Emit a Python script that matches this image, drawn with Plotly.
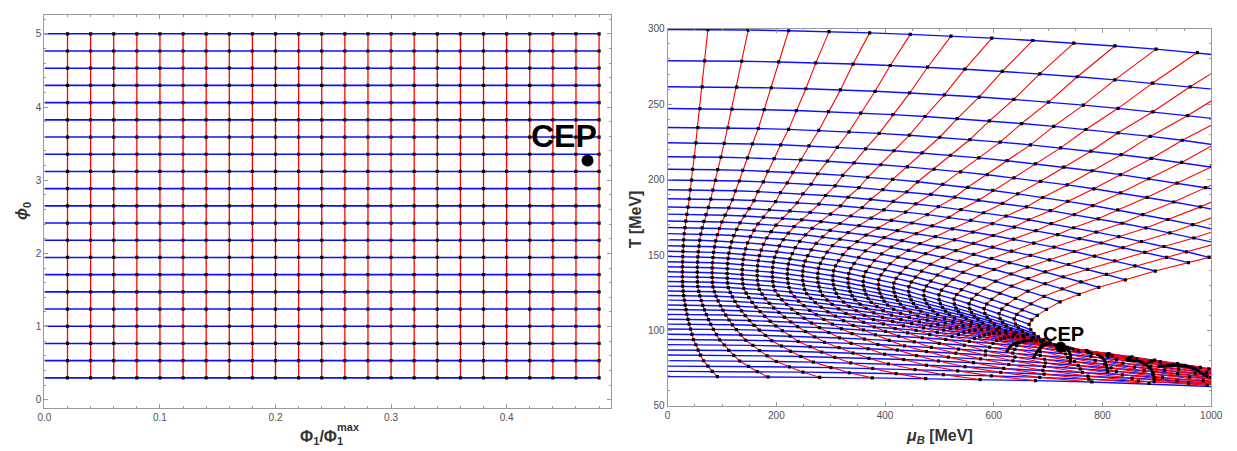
import plotly.graph_objects as go

# ---------------- left panel: horizon-data grid ----------------
phi1_ratio = [0.02, 0.04, 0.06, 0.08, 0.10, 0.12, 0.14, 0.16, 0.18, 0.20, 0.22, 0.24,
              0.26, 0.28, 0.30, 0.32, 0.34, 0.36, 0.38, 0.40, 0.42, 0.44, 0.46, 0.48]
phi0_vals = [0.3, 0.535, 0.77, 1.005, 1.24, 1.475, 1.71, 1.945, 2.18, 2.415, 2.65,
             2.885, 3.12, 3.355, 3.59, 3.825, 4.06, 4.295, 4.53, 4.765, 5.0]
cep_left = (0.47, 3.27)

# ---------------- right panel: image of the grid in (mu_B, T) ----------------
# one entry per constant-phi0 curve
T_start = [299.5, 278.8, 261.6, 247.1, 234.6, 224.4, 215.2, 206.9, 199.8, 193.3, 187.3,
           181.9, 177.1, 172.6, 168.3, 164.2, 160.1, 156.2, 152.5, 149.1, 145.6, 142.2,
           138.9, 135.7, 132.5, 129.4, 126.2, 123.2, 120.1, 116.9, 113.9, 110.7, 107.4,
           104.2, 101.0, 97.5, 94.0, 90.6, 87.1, 83.7, 80.0, 76.4, 72.9, 69.4]
# mu_B where the first Phi1 line crosses each curve
mu_first = [74, 68, 63.5, 59.2, 55.6, 52, 49, 46, 44, 41.5, 39.7, 37.5, 35.3, 33.3,
            31.8, 30.5, 29.5, 28.8, 28.2, 27.8, 27.5, 27.3, 27.2, 27.2, 27.3, 27.6,
            28.5, 29.5, 30.8, 32.2, 33.8, 35.5, 37.5, 39.6, 42, 44.8, 47.6, 52, 56,
            60.5, 66, 74, 82, 91.5]
# (mu_B, T) where the last Phi1 line crosses each curve
mu_last = [1820, 1660, 1535, 1420, 1335, 1250, 1176, 1104, 1056, 996, 958, 897, 842,
           793, 757, 722, 697, 680, 670, 665, 668, 674, 682, 692, 704, 718, 735, 755,
           780, 810, 845, 885, 930, 980, 1040, 1110, 1200, 1310, 1440, 1590, 1770,
           1980, 2250, 2672]
T_last = [246.2, 227.3, 212.4, 199.9, 188.3, 176.9, 167.3, 158.9, 154.0, 148.5, 145.0,
          139.4, 133.6, 128.6, 124.0, 119.0, 114.0, 110.0, 107.0, 104.0, 100.5, 98.0,
          95.8, 93.8, 91.8, 90.0, 88.3, 86.5, 84.6, 82.6, 80.7, 78.9, 77.2, 75.6, 72.2,
          67.4, 62.0, 56.1, 50.0, 43.8, 38.0, 32.9, 29.9, 28.0]
# crowded crossing points where the map folds back, past the critical point
fold_mu = [[623, 632, 646],
           [672, 684, 696],
           [735, 741, 740],
           [789, 803, 810],
           [844, 871, 892, 895],
           [901, 934, 970, 982, 995]]
fold_T = [[85.6, 90.0, 92.1],
          [81.3, 88.0, 91.0],
          [88.0, 84.0, 78.0],
          [84.5, 80.5, 71.6],
          [80.2, 79.2, 72.7, 65.1],
          [76.0, 77.0, 74.8, 71.6, 69.4]]
cep_right = (723, 89)

RED = "rgb(255,0,0)"
BLUE = "rgb(15,15,255)"
DOT = "black"

# crossing points of every Phi1 line with every phi0 curve
n_k = len(phi1_ratio)
ks = [p / phi1_ratio[0] for p in phi1_ratio]
K = ks[-1]
grid_mu, grid_T = [], []
for T0, m, M, TL in zip(T_start, mu_first, mu_last, T_last):
    b = (M - K * m) / (K * K - K)
    a = m - b
    mus = [a * k + b * k * k for k in ks]
    Ts = [T0 - (T0 - TL) * (mu / M) ** 2 for mu in mus]
    grid_mu.append(mus)
    grid_T.append(Ts)

fig = go.Figure()

# ---- left panel traces ----
bx, by = [], []
for y in phi0_vals:
    bx += [0.0, phi1_ratio[-1], None]
    by += [y, y, None]
rx, ry = [], []
for x in phi1_ratio:
    rx += [x, x, None]
    ry += [phi0_vals[0], phi0_vals[-1], None]
dx = [x for y in phi0_vals for x in phi1_ratio]
dy = [y for y in phi0_vals for x in phi1_ratio]
fig.add_trace(go.Scatter(x=bx, y=by, mode="lines", line=dict(color=BLUE, width=1.6),
                         xaxis="x", yaxis="y", hoverinfo="skip"))
fig.add_trace(go.Scatter(x=rx, y=ry, mode="lines", line=dict(color=RED, width=1.3),
                         xaxis="x", yaxis="y", hoverinfo="skip"))
fig.add_trace(go.Scatter(x=dx, y=dy, mode="markers",
                         marker=dict(color=DOT, size=3.2, symbol="square"),
                         xaxis="x", yaxis="y"))
fig.add_trace(go.Scatter(x=[cep_left[0]], y=[cep_left[1]], mode="markers",
                         marker=dict(color="black", size=12), xaxis="x", yaxis="y"))

# ---- right panel traces ----
bx, by = [], []
for T0, mus, Ts in zip(T_start, grid_mu, grid_T):
    bx += [0.0] + mus + [None]
    by += [T0] + Ts + [None]
rx, ry = [], []
for i in range(n_k):
    rx += [grid_mu[j][i] for j in range(len(T_start))] + [None]
    ry += [grid_T[j][i] for j in range(len(T_start))] + [None]
dx = [mu for row in grid_mu for mu in row]
dy = [t for row in grid_T for t in row]
fig.add_trace(go.Scatter(x=bx, y=by, mode="lines", line=dict(color=BLUE, width=1.4),
                         xaxis="x2", yaxis="y2", hoverinfo="skip"))
fig.add_trace(go.Scatter(x=rx, y=ry, mode="lines", line=dict(color=RED, width=1.1),
                         xaxis="x2", yaxis="y2", hoverinfo="skip"))
fig.add_trace(go.Scatter(x=dx, y=dy, mode="markers",
                         marker=dict(color=DOT, size=3.2, symbol="square"),
                         xaxis="x2", yaxis="y2"))
for hm, ht in zip(fold_mu, fold_T):
    fig.add_trace(go.Scatter(x=hm, y=ht, mode="lines",
                             line=dict(color=DOT, width=3, shape="spline"),
                             xaxis="x2", yaxis="y2", hoverinfo="skip"))
fig.add_trace(go.Scatter(x=[cep_right[0]], y=[cep_right[1]], mode="markers",
                         marker=dict(color="black", size=11), xaxis="x2", yaxis="y2"))

FRAME = "#9a9a9a"
TICKFONT = dict(family="Liberation Sans, Arial, sans-serif", size=10, color="#505050")


def axis(domain, rng, tickvals, ticktext, minor_dtick, anchor):
    return dict(domain=domain, range=rng, anchor=anchor, showgrid=False, zeroline=False,
                showline=True, linecolor=FRAME, linewidth=1, mirror="ticks",
                ticks="inside", ticklen=4, tickcolor=FRAME, tickwidth=1,
                tickvals=tickvals, ticktext=ticktext, tickfont=TICKFONT,
                minor=dict(ticks="inside", ticklen=2, tickcolor=FRAME, dtick=minor_dtick,
                           showgrid=False))


fig.update_layout(
    width=1237, height=451, margin=dict(l=0, r=0, t=0, b=0),
    paper_bgcolor="white", plot_bgcolor="white", showlegend=False,
    xaxis=axis([0.0307, 0.4956], [0, 0.49], [0, 0.1, 0.2, 0.3, 0.4],
               ["0.0", "0.1", "0.2", "0.3", "0.4"], 0.02, "y"),
    yaxis=axis([0.0865, 0.9778], [-0.11, 5.26], [0, 1, 2, 3, 4, 5],
               ["0", "1", "2", "3", "4", "5"], 0.2, "x"),
    xaxis2=axis([0.5424, 0.9887], [0, 1000], [0, 200, 400, 600, 800, 1000],
                ["0", "200", "400", "600", "800", "1000"], 50, "y2"),
    yaxis2=axis([0.0909, 0.9461], [50, 300], [50, 100, 150, 200, 250, 300],
                ["50", "100", "150", "200", "250", "300"], 10, "x2"),
)

TITLE = dict(family="Liberation Sans, Arial, sans-serif", size=16, color="#333333")


def title(px, py, text, angle=0, anchor="center", font=TITLE):
    fig.add_annotation(x=px / 1237, y=1 - py / 451, xref="paper", yref="paper",
                       text=text, showarrow=False, textangle=angle, font=font,
                       xanchor=anchor, yanchor="middle")


title(296, 442, "<b>Φ<sub>1</sub>/Φ<sub>1</sub></b>", anchor="left")
title(347, 432, "<b>max</b>", font=dict(TITLE, size=11))
title(16, 211, "<b><i>ϕ</i><sub>0</sub></b>", angle=-90)
title(947, 441, "<b><i>μ</i><sub><i>B</i></sub> [MeV]</b>")
title(638, 219, "<b>T [MeV]</b>", angle=-90)

CEPFONT = dict(family="Liberation Sans, Arial, sans-serif", color="black")
fig.add_annotation(x=0.45, y=3.6, xref="x", yref="y", text="<b>CEP</b>", showarrow=False,
                   font=dict(CEPFONT, size=32))
fig.add_annotation(x=728, y=97.5, xref="x2", yref="y2", text="<b>CEP</b>",
                   showarrow=False, font=dict(CEPFONT, size=20))

fig.write_html("out.html")
